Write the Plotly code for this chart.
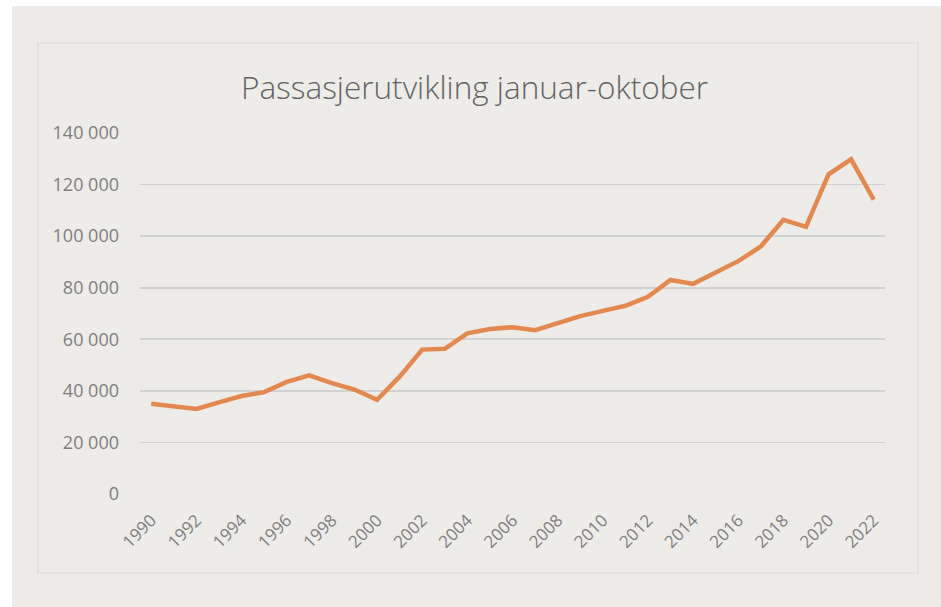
import plotly.graph_objects as go

years = list(range(1990, 2023))
passengers = [35000, 34000, 33000, 35500, 38000, 39500, 43500, 46000, 43000, 40500,
              36500, 45500, 56000, 56300, 62300, 64000, 64700, 63500, 66300, 69000,
              71000, 73000, 76500, 83000, 81500, 85800, 90300, 96000, 106300, 103600,
              124000, 129800, 114200]
title_text = "Passasjerutvikling januar-oktober"
x_ticks = list(range(1990, 2023, 2))
y_ticks = list(range(0, 140001, 20000))

# plot area in pixels: x 140..885, y 133..494
W, H = 941, 607
L, R, T, B = 140, 885, 133, 494

def px(X):
    return (X - L) / (R - L)

def py(Y):
    return (B - Y) / (B - T)

fig = go.Figure()
fig.add_trace(go.Scatter(
    x=years, y=passengers, mode="lines",
    line=dict(color="#E3894F", width=4.5),
    hoverinfo="skip",
))

fig.update_layout(
    width=W, height=H,
    margin=dict(l=L, r=W - R, t=T, b=H - B, pad=0),
    paper_bgcolor="#FFFFFF",
    plot_bgcolor="rgba(0,0,0,0)",
    showlegend=False,
    separators=", ",
    title=dict(text=title_text, x=(243 + 706) / 2 / W, xanchor="center", y=1 - 88 / H, yanchor="middle",
               font=dict(family="Open Sans", size=31.5, color="#636363", weight=300)),
    xaxis=dict(range=[1989.5, 2022.5], tickvals=x_ticks, tickangle=-45,
               showgrid=False, zeroline=False, showline=False, ticks="",
               tickfont=dict(family="Open Sans", size=17, color="#7E7E7E"),
               ticklabelstandoff=12, fixedrange=True),
    yaxis=dict(range=[0, 140000], tickvals=y_ticks, tickformat=",d",
               showgrid=True, gridcolor="#D2D2D2", gridwidth=1.6,
               zeroline=False, showline=False, ticks="",
               tickfont=dict(family="Open Sans", size=18, color="#7E7E7E"),
               ticklabelstandoff=20, fixedrange=True),
    shapes=[
        dict(type="rect", xref="paper", yref="paper", layer="below",
             x0=px(12), x1=px(941), y0=py(607), y1=py(6),
             fillcolor="#EEECE8", line=dict(width=0)),
        dict(type="rect", xref="paper", yref="paper", layer="below",
             x0=px(38), x1=px(918), y0=py(573), y1=py(43),
             fillcolor="#EEECE8", line=dict(color="#DEDCD8", width=1.2)),
    ],
)

fig.write_html("out.html", config={"displayModeBar": False, "staticPlot": True},
               post_script="document.body.style.margin='0';document.body.style.padding='0';document.body.style.overflow='hidden';")
